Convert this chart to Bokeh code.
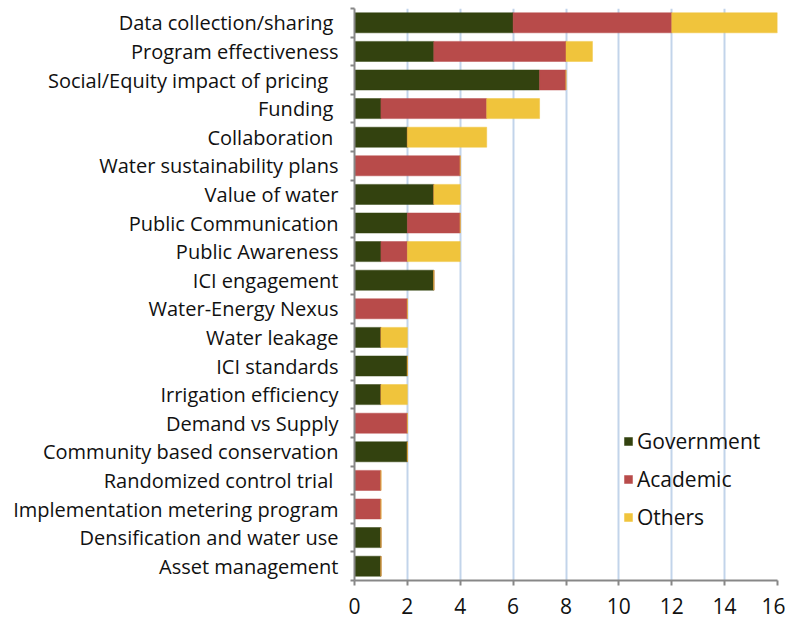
from bokeh.plotting import figure
from bokeh.models import FixedTicker, Legend, LegendItem, Range1d
from bokeh.embed import file_html
from bokeh.resources import INLINE

categories = [
    "Data collection/sharing ",
    "Program effectiveness",
    "Social/Equity  impact of pricing ",
    "Funding ",
    "Collaboration ",
    "Water sustainability plans",
    "Value of water",
    "Public Communication",
    "Public Awareness",
    "ICI engagement",
    "Water-Energy Nexus",
    "Water leakage",
    "ICI standards",
    "Irrigation efficiency",
    "Demand vs Supply",
    "Community based conservation",
    "Randomized control trial ",
    "Implementation metering program",
    "Densification and water use",
    "Asset management",
]
government = [6, 3, 7, 1, 2, 0, 3, 2, 1, 3, 0, 1, 2, 1, 0, 2, 0, 0, 1, 1]
academic   = [6, 5, 1, 4, 0, 4, 0, 2, 1, 0, 2, 0, 0, 0, 2, 0, 1, 1, 0, 0]
others     = [4, 1, 0, 2, 3, 0, 1, 0, 2, 0, 0, 1, 0, 1, 0, 0, 0, 0, 0, 0]
series_names = ["Government", "Academic", "Others"]
colors = ["#33420f", "#b84b4a", "#f0c43c"]
x_ticks = [0, 2, 4, 6, 8, 10, 12, 14, 16]

n = len(categories)
centers = [n - 1 - i + 0.5 for i in range(n)]
bounds = list(range(n + 1))

p = figure(width=785, height=622, output_backend="svg", toolbar_location=None,
           x_range=Range1d(0, 16), y_range=Range1d(0, n),
           min_border_left=354, min_border_right=8, min_border_top=8, min_border_bottom=42)
p.outline_line_color = None
p.background_fill_color = "white"

left = [0] * n
renderers = []
for vals, col in zip([government, academic, others], colors):
    right = [l + v for l, v in zip(left, vals)]
    r = p.hbar(y=centers, left=left, right=right, height=0.7,
               fill_color=col, line_color=col, line_width=0.5)
    renderers.append(r)
    left = right

# axes
p.xaxis.ticker = FixedTicker(ticks=x_ticks)
p.xaxis.axis_line_color = "#878787"
p.xaxis.axis_line_width = 2
p.xaxis.major_tick_line_color = "#878787"
p.xaxis.major_tick_line_width = 2
p.xaxis.major_tick_out = 5
p.xaxis.major_tick_in = 0
p.xaxis.minor_tick_line_color = None
p.xaxis.major_label_text_font = "Open Sans"
p.xaxis.major_label_text_font_size = "21px"
p.xaxis.major_label_text_color = "#111111"
p.xaxis.major_label_standoff = 12

p.yaxis.ticker = FixedTicker(ticks=centers, minor_ticks=bounds)
p.yaxis.major_label_overrides = {c: lab for c, lab in zip(centers, categories)}
p.yaxis.axis_line_color = "#878787"
p.yaxis.axis_line_width = 2
p.yaxis.major_tick_line_color = None
p.yaxis.major_tick_out = 0
p.yaxis.major_tick_in = 0
p.yaxis.minor_tick_line_color = "#878787"
p.yaxis.minor_tick_line_width = 2
p.yaxis.minor_tick_out = 4
p.yaxis.minor_tick_in = 0
p.yaxis.major_label_text_font = "Open Sans"
p.yaxis.major_label_text_font_size = "20px"
p.yaxis.major_label_text_color = "#111111"
p.yaxis.major_label_standoff = 12

p.xgrid.ticker = FixedTicker(ticks=x_ticks)
p.xgrid.grid_line_color = "#c2d4ea"
p.xgrid.grid_line_width = 2
p.ygrid.grid_line_color = None

legend = Legend(items=[LegendItem(label=nm, renderers=[r]) for nm, r in zip(series_names, renderers)],
                location=(269, 49))
legend.glyph_width = 10
legend.glyph_height = 10
legend.label_text_font = "Open Sans"
legend.label_text_font_size = "21px"
legend.label_text_color = "#111111"
legend.spacing = 10
legend.padding = 0
legend.margin = 0
legend.label_standoff = 4
legend.background_fill_alpha = 0
legend.border_line_alpha = 0
p.add_layout(legend)

open("out.html", "w").write(file_html(p, INLINE))
